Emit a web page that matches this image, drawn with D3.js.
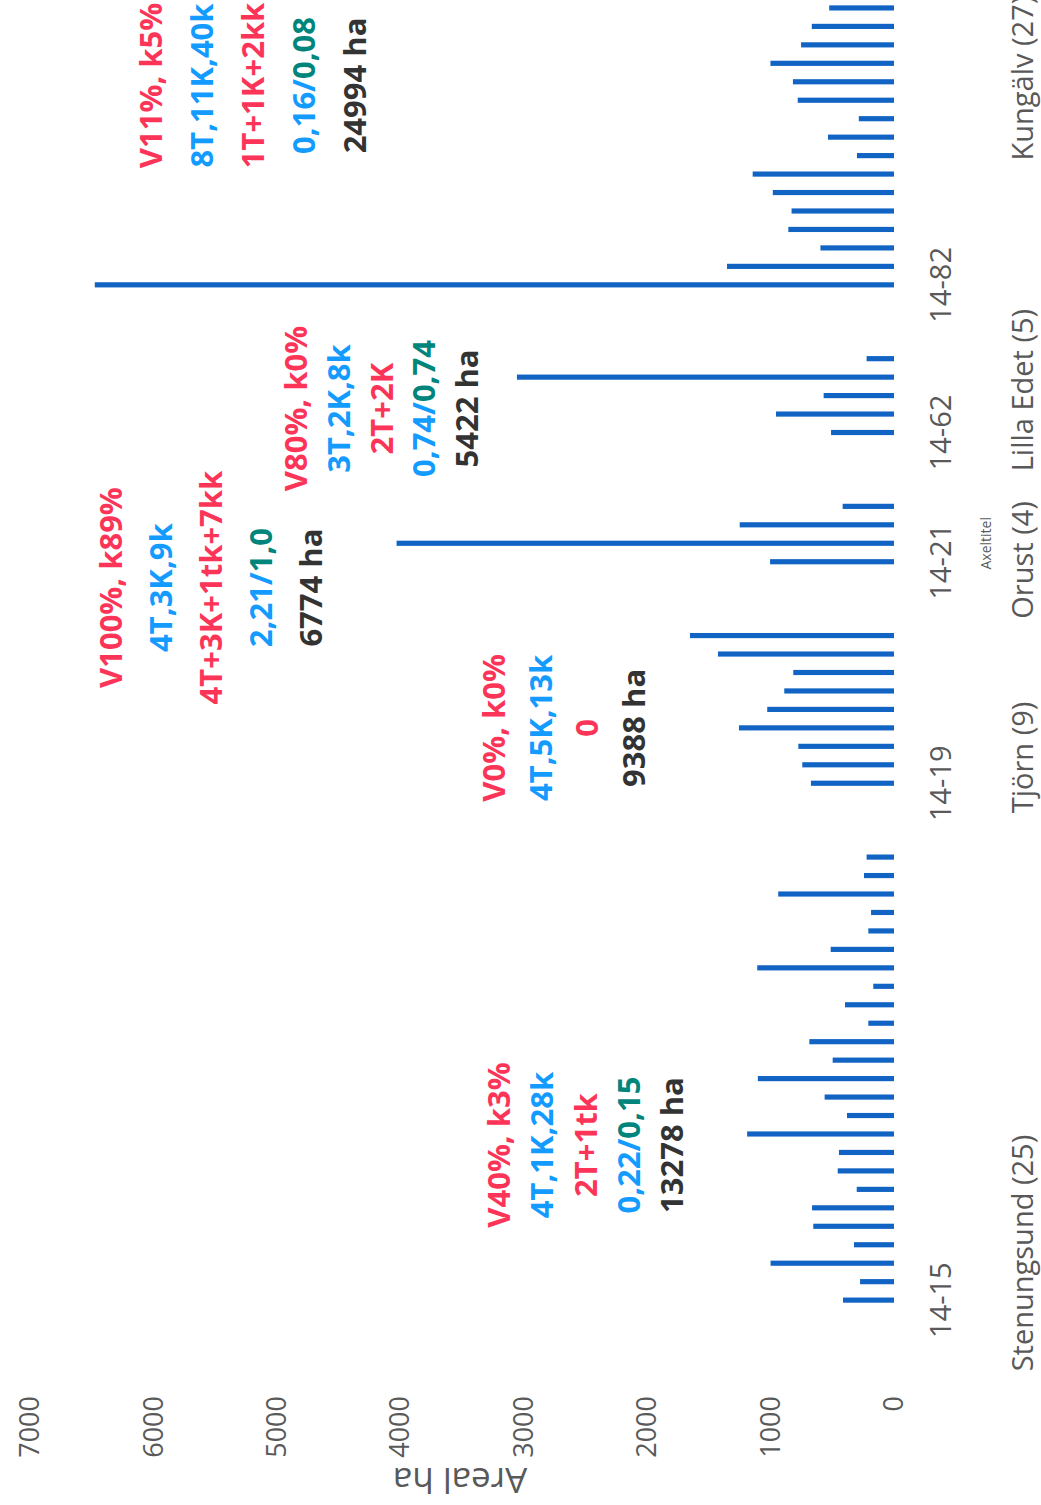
<!DOCTYPE html>
<html lang="sv">
<head>
<meta charset="utf-8">
<title>Areal ha per bestånd</title>
<script src="https://d3js.org/d3.v7.min.js"></script>
<style>
  body { margin:0; background:#fff; }
  svg { display:block; background:#fff; }
  .tick text { font-family:"Open Sans", sans-serif; fill:#595959; }
  .anno { font-family:"Open Sans", sans-serif; font-weight:700; }
</style>
</head>
<body>
<script>
// --- data ---
const groups = ["Stenungsund (25)", "Tjörn (9)", "Orust (4)", "Lilla Edet (5)", "Kungälv (27)"];
const groupCounts = [25, 9, 4, 5, 27];
const firstTicks = ["14-15", "14-19", "14-21", "14-62", "14-82"];
const valueTicks = [0, 1000, 2000, 3000, 4000, 5000, 6000, 7000];

const stenungsund = [413, 275, 1000, 324, 654, 664, 302, 456, 446, 1190, 381, 562, 1103, 497, 686, 208, 397, 168, 1108, 513, 208, 186, 938, 243, 222];
const tjorn = [673, 743, 775, 1256, 1027, 889, 816, 1426, 1653];
const orust = [1004, 4030, 1250, 416];
const lillaEdet = [510, 956, 570, 3055, 222];
// only the first 16 bars of Kungälv are inside the picture
const kungalv = [6475, 1353, 596, 856, 830, 982, 1145, 300, 535, 285, 780, 819, 1001, 753, 666, 525];
const groupValues = [stenungsund, tjorn, orust, lillaEdet, kungalv];

const annoStenungsund = [[["V40%, k3%","red"]], [["4T,1K,28k","blue"]], [["2T+1tk","red"]], [["0,22/","blue"],["0,15","teal"]], [["13278 ha","dark"]]];
const annoTjorn = [[["V0%, k0%","red"]], [["4T,5K,13k","blue"]], [["0","red"]], [["9388 ha","dark"]]];
const annoOrust = [[["V100%, k89%","red"]], [["4T,3K,9k","blue"]], [["4T+3K+1tk+7kk","red"]], [["2,21/","blue"],["1,0","teal"]], [["6774 ha","dark"]]];
const annoLillaEdet = [[["V80%, k0%","red"]], [["3T,2K,8k","blue"]], [["2T+2K","red"]], [["0,74/","blue"],["0,74","teal"]], [["5422 ha","dark"]]];
const annoKungalv = [[["V11%, k5%","red"]], [["8T,11K,40k","blue"]], [["1T+1K+2kk","red"]], [["0,16/","blue"],["0,08","teal"]], [["24994 ha","dark"]]];
const annotations = [annoStenungsund, annoTjorn, annoOrust, annoLillaEdet, annoKungalv];

// --- layout ---
const W = 1041, H = 1505;
const colors = {red:"#fc3558", blue:"#139bff", teal:"#00857c", dark:"#333333"};
const barColor = "#1264c4";
// annotation blocks: slot offset from group start, first baseline, line gap
const annoLayout = [
  {slot: 8.4, base: 510, gap: 43.3},
  {slot: 3.0, base: 505, gap: 46.7},
  {slot: -1.4, base: 122, gap: 50},
  {slot: 1.3, base: 307, gap: 42.8},
  {slot: 10.8, base: 162, gap: 51}
];
const groupLabelSlot = [2.55, 1.4, 0.1, 2.3, 11.2];

const svg = d3.select("body").append("svg")
  .attr("width", W).attr("height", H);

// the chart is drawn as an ordinary column chart, then turned a quarter turn
const g = svg.append("g")
  .attr("transform", `translate(0,${H}) rotate(-90)`);

// slots: bars of each group, three empty slots between groups
const slots = [];
const firstSlot = [];
groups.forEach((name, gi) => {
  if (gi > 0) for (let k = 0; k < 3; k++) slots.push(`gap${gi}-${k}`);
  firstSlot.push(slots.length);
  for (let i = 0; i < groupCounts[gi]; i++) slots.push(`${gi}-${i}`);
});

const x = d3.scaleBand().domain(slots).range([189, 1716])
  .paddingInner(0.72).paddingOuter(0.72);
const y = d3.scaleLinear().domain([0, 7000]).range([894, 30]);
const slotPos = s => x(slots[0]) + x.bandwidth() / 2 + s * x.step();

const bars = [];
groupValues.forEach((vals, gi) => vals.forEach((v, i) => bars.push({key: `${gi}-${i}`, value: v})));

g.append("g").selectAll("rect")
  .data(bars)
  .join("rect")
  .attr("x", d => x(d.key))
  .attr("width", x.bandwidth())
  .attr("y", d => y(d.value))
  .attr("height", d => y(0) - y(d.value))
  .attr("fill", barColor);

// value axis
const yAxis = g.append("g")
  .attr("transform", "translate(115,0)")
  .call(d3.axisLeft(y).tickValues(valueTicks).tickFormat(d3.format("d")).tickSize(0).tickPadding(6));
yAxis.select(".domain").remove();
yAxis.selectAll("text").style("font-size", "27px");

// category axis: only first bar of each group is labelled
const tickMap = new Map(groups.map((gname, gi) => [`${gi}-0`, firstTicks[gi]]));
const xAxis = g.append("g")
  .attr("transform", `translate(0,${y(0)})`)
  .call(d3.axisBottom(x).tickValues([...tickMap.keys()]).tickFormat(k => tickMap.get(k))
    .tickSize(0).tickPadding(36));
xAxis.select(".domain").remove();
xAxis.selectAll("text").style("font-size", "29px");

// group labels
g.append("g").selectAll("text")
  .data(groups)
  .join("text")
  .attr("x", (d, gi) => slotPos(firstSlot[gi] + groupLabelSlot[gi]))
  .attr("y", 1033)
  .attr("text-anchor", "middle")
  .style("font-family", "'Open Sans', sans-serif")
  .style("font-size", "29px")
  .attr("fill", "#595959")
  .text(d => d);

// axis titles
g.append("text")
  .attr("x", slotPos(firstSlot[2] + 1.0))
  .attr("y", 991)
  .attr("text-anchor", "middle")
  .style("font-family", "'Open Sans', sans-serif")
  .style("font-size", "14px")
  .attr("fill", "#595959")
  .text("Axeltitel");

g.append("text")
  .attr("transform", "translate(37,460) rotate(-90)")
  .attr("text-anchor", "middle")
  .style("font-family", "'Open Sans', sans-serif")
  .style("font-size", "35px")
  .attr("fill", "#595959")
  .text("Areal ha");

// annotation blocks
annotations.forEach((lines, gi) => {
  const L = annoLayout[gi];
  const cx = slotPos(firstSlot[gi] + L.slot);
  lines.forEach((segs, li) => {
    const t = g.append("text")
      .attr("class", "anno")
      .attr("x", cx)
      .attr("y", L.base + li * L.gap)
      .attr("text-anchor", "middle")
      .style("font-size", "31px");
    segs.forEach(([txt, c]) => t.append("tspan").attr("fill", colors[c]).text(txt));
  });
});
</script>
</body>
</html>
